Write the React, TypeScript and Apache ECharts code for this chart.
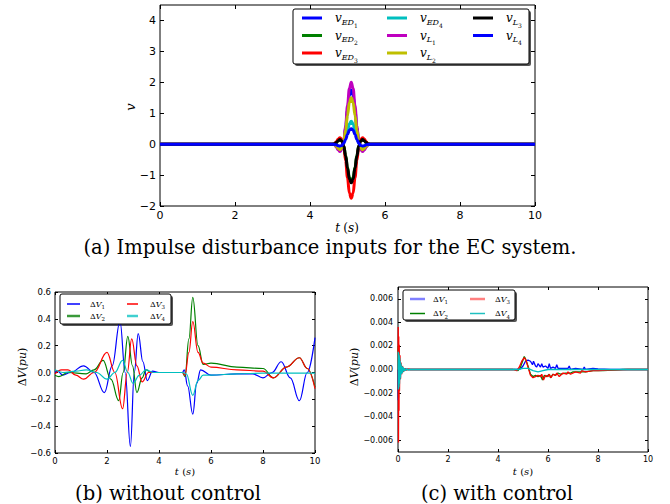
import React, { useEffect, useRef } from 'react';
import * as echarts from 'echarts';

// ---------- (a) impulse inputs ----------
const impulseT = [0, 4.6, 4.65, 4.7, 4.75, 4.8, 4.85, 4.9, 4.95, 5.0, 5.05, 5.1, 5.15, 5.2, 5.25, 5.3, 5.35, 5.4, 5.45, 5.5, 5.55, 5.6, 10];
const vED1 = [0, 0, -0.02, -0.07, -0.16, -0.21, -0.14, 0.09, 0.53, 1.09, 1.58, 1.75, 1.58, 1.09, 0.53, 0.09, -0.14, -0.21, -0.16, -0.07, -0.02, 0, 0];
const vED2 = [0, 0, 0.01, 0.05, 0.11, 0.14, 0.1, -0.06, -0.36, -0.74, -1.08, -1.2, -1.08, -0.74, -0.36, -0.06, 0.1, 0.14, 0.11, 0.05, 0.01, 0, 0];
const vED3 = [0, 0, 0.02, 0.07, 0.16, 0.21, 0.14, -0.09, -0.53, -1.09, -1.58, -1.75, -1.58, -1.09, -0.53, -0.09, 0.14, 0.21, 0.16, 0.07, 0.02, 0, 0];
const vED4 = [0, 0, -0.01, -0.03, -0.06, -0.09, -0.06, 0.04, 0.22, 0.45, 0.65, 0.74, 0.65, 0.45, 0.22, 0.04, -0.06, -0.09, -0.06, -0.03, -0.01, 0, 0];
const vL1 = [0, 0, -0.02, -0.08, -0.18, -0.24, -0.16, 0.1, 0.6, 1.24, 1.8, 2.0, 1.8, 1.24, 0.6, 0.1, -0.16, -0.24, -0.18, -0.08, -0.02, 0, 0];
const vL2 = [0, 0, -0.02, -0.06, -0.14, -0.18, -0.12, 0.08, 0.45, 0.93, 1.35, 1.5, 1.35, 0.93, 0.45, 0.08, -0.12, -0.18, -0.14, -0.06, -0.02, 0, 0];
const vL3 = [0, 0, 0.01, 0.05, 0.11, 0.15, 0.1, -0.06, -0.38, -0.78, -1.13, -1.25, -1.13, -0.78, -0.38, -0.06, 0.1, 0.15, 0.11, 0.05, 0.01, 0, 0];
const vL4 = [0, 0, -0.01, -0.02, -0.05, -0.06, -0.04, 0.03, 0.15, 0.31, 0.45, 0.5, 0.45, 0.31, 0.15, 0.03, -0.04, -0.06, -0.05, -0.02, -0.01, 0, 0];

// ---------- (b) without control ----------
const bT1 = [0, 0.1, 0.3, 0.6, 1.1, 1.5, 1.9, 2.2, 2.5, 2.7, 2.9, 3.05, 3.2, 3.38, 3.55, 3.75, 4.0, 4.9, 4.97, 5.1, 5.3, 5.45, 5.6, 6.0, 7.0, 7.6, 8.0, 8.35, 8.7, 9.05, 9.4, 9.7, 10];
const bV1 = [0.0, 0.01, -0.02, 0.0, 0.05, 0.0, -0.15, 0.05, 0.38, 0.0, -0.55, 0.0, 0.29, 0.08, -0.06, 0.01, 0.0, 0.0, 0.02, -0.1, -0.31, -0.08, 0.02, -0.02, -0.01, -0.01, -0.04, 0.0, 0.08, -0.04, -0.21, 0.0, 0.26];
const bT2 = [0, 0.15, 0.5, 1.2, 1.5, 1.85, 2.15, 2.45, 2.62, 2.8, 2.98, 3.15, 3.35, 3.5, 3.7, 4.9, 5.0, 5.15, 5.3, 5.5, 5.7, 6.0, 7.0, 8.0, 8.4, 8.9, 9.4, 9.7, 10];
const bV2 = [-0.02, -0.03, 0.0, -0.01, 0.02, 0.09, -0.05, -0.21, 0.0, 0.27, 0.05, -0.15, -0.04, 0.02, 0.0, 0.0, -0.03, 0.25, 0.56, 0.2, 0.06, 0.07, 0.04, 0.03, -0.04, 0.04, 0.11, 0.03, -0.11];
const bT3 = [0, 0.25, 0.5, 0.8, 1.1, 1.5, 2.0, 2.3, 2.6, 2.78, 2.95, 3.15, 3.35, 3.6, 4.9, 5.0, 5.15, 5.3, 5.5, 5.7, 6.0, 7.0, 8.0, 8.4, 8.9, 9.4, 9.7, 10];
const bV3 = [-0.01, 0.02, 0.02, -0.02, -0.05, 0.0, 0.15, 0.0, -0.27, 0.0, 0.25, 0.05, -0.07, 0.0, 0.0, -0.02, 0.15, 0.38, 0.15, 0.07, 0.04, 0.02, 0.01, -0.04, 0.04, 0.11, 0.03, -0.12];
const bT4 = [0, 0.3, 0.8, 1.2, 1.6, 2.0, 2.3, 2.6, 2.8, 3.0, 3.25, 3.5, 3.8, 4.9, 5.05, 5.3, 5.5, 5.7, 6.0, 7.0, 8.0, 10];
const bV4 = [0.02, 0.0, 0.01, 0.02, 0.0, -0.05, 0.0, 0.09, 0.0, -0.08, -0.02, 0.02, 0.0, 0.0, -0.01, -0.17, -0.06, -0.02, -0.02, -0.01, -0.005, -0.005];

// ---------- (c) with control ----------
const cT1 = [0, 0.01, 0.02, 0.03, 0.04, 0.06, 0.08, 0.1, 0.13, 0.16, 0.2, 0.25, 0.3, 0.4, 0.6, 4.7, 4.9, 5.0, 5.1, 5.2, 5.3, 5.38, 5.42, 5.5, 5.55, 5.6, 5.7, 5.75, 5.8, 5.9, 6.0, 6.05, 6.1, 6.2, 6.3, 6.35, 6.4, 6.6, 6.8, 6.85, 6.9, 7.1, 7.4, 7.45, 7.5, 7.8, 8.0, 8.5, 9.0, 10];
const cV1 = [0, -0.0026, 0.001, -0.0012, 0.0008, -0.0006, 0.0004, -0.0003, 0.0002, -0.00015, 0.0001, -0.00005, 0.00003, 0, 0, 0, 0.00005, 0.0003, 0.0007, 0.0008, 0.0007, 0.0004, 0.0007, 0.0003, 0.0002, 0.0005, 0.0002, 0.0005, 0.0002, 0.0003, 0.0001, 0.0005, 0.0001, 0.0002, 0.0001, 0.0004, 0.0001, 0.0001, 0.0001, 0.0003, 0.0, 0.0001, 0.0, 0.0002, 0.0, 0.0001, 0.00005, 0.0, 0.0, 0];
const cT2 = [0, 0.01, 0.02, 0.03, 0.04, 0.06, 0.08, 0.1, 0.13, 0.16, 0.2, 0.3, 0.5, 4.7, 4.8, 4.9, 5.0, 5.05, 5.1, 5.2, 5.3, 5.4, 5.5, 5.6, 5.7, 5.78, 5.85, 5.95, 6.05, 6.1, 6.2, 6.3, 6.4, 6.5, 6.7, 6.9, 7.0, 7.2, 7.5, 7.8, 8.2, 8.6, 9.0, 10];
const cV2 = [0, 0.002, -0.0024, 0.0016, -0.0012, 0.0008, -0.0005, 0.0004, -0.0002, 0.0001, -0.00005, 0, 0, 0, -0.0001, 0.0002, 0.0008, 0.0011, 0.0009, 0.0003, -0.0004, -0.0006, -0.0005, -0.0006, -0.0005, -0.0009, -0.0005, -0.0006, -0.0004, -0.0007, -0.0004, -0.0005, -0.0003, -0.0004, -0.0003, -0.0003, -0.0002, -0.0002, -0.0002, -0.0001, -0.0001, -0.00005, 0, 0];
const cT3 = [0, 0.01, 0.02, 0.03, 0.04, 0.05, 0.06, 0.08, 0.1, 0.12, 0.15, 0.18, 0.22, 0.27, 0.33, 0.4, 0.5, 4.6, 4.75, 4.85, 4.95, 5.05, 5.12, 5.2, 5.3, 5.4, 5.5, 5.6, 5.7, 5.75, 5.82, 5.9, 6.0, 6.05, 6.12, 6.2, 6.3, 6.35, 6.45, 6.6, 6.75, 6.8, 6.9, 7.1, 7.3, 7.35, 7.5, 7.8, 8.0, 8.4, 8.8, 9.2, 10];
const cV3 = [0, 0.0036, -0.0062, 0.0028, -0.0035, 0.0021, -0.0018, 0.0012, -0.0008, 0.0006, -0.0004, 0.0003, -0.0002, 0.0001, -0.00005, 0.00003, 0, 0, -0.0001, 0.0002, 0.0007, 0.001, 0.0008, 0.0002, -0.0005, -0.0007, -0.0006, -0.0005, -0.0006, -0.0004, -0.0009, -0.0005, -0.0006, -0.0004, -0.0007, -0.0004, -0.0005, -0.0003, -0.0006, -0.0003, -0.0004, -0.0002, -0.0004, -0.0002, -0.0003, -0.0001, -0.0002, -0.0001, -0.0001, -0.00005, -0.00003, 0, 0];
const cT4 = [0, 0.01, 0.02, 0.03, 0.04, 0.05, 0.06, 0.07, 0.08, 0.09, 0.1, 0.12, 0.14, 0.16, 0.18, 0.2, 0.23, 0.26, 0.3, 0.35, 0.4, 0.5, 0.6, 4.8, 5.0, 5.2, 5.4, 5.6, 5.8, 6.0, 6.5, 7.0, 8.0, 10];
const cV4 = [0, 0.0015, -0.0017, 0.0014, -0.0015, 0.0012, -0.0012, 0.001, -0.0009, 0.0007, -0.0007, 0.0005, -0.0004, 0.0003, -0.0003, 0.0002, -0.00015, 0.0001, -0.0001, 0.00005, -0.00003, 0, 0, 0, 0.0001, 0.0001, -0.0001, -0.0002, -0.0001, 0.0, 0.0, 0.0, 0.0, 0];

// ---------- ticks ----------
const xTicks = [0, 2, 4, 6, 8, 10];
const aYTicks = [-2, -1, 0, 1, 2, 3, 4];
const bYTicks = [-0.6, -0.4, -0.2, 0, 0.2, 0.4, 0.6];
const cYTicks = [-0.006, -0.004, -0.002, 0, 0.002, 0.004, 0.006];

// ---------- labels ----------
const topNames = ['vED1', 'vED2', 'vED3', 'vED4', 'vL1', 'vL2', 'vL3', 'vL4'];
const topLabels = ['{v|v}{s|ED}{n|1}', '{v|v}{s|ED}{n|2}', '{v|v}{s|ED}{n|3}', '{v|v}{s|ED}{n|4}', '{v|v}{s|L}{n|1}', '{v|v}{s|L}{n|2}', '{v|v}{s|L}{n|3}', '{v|v}{s|L}{n|4}'];
const dvLabels = ['{d|Δ}{v|V}{n|1}', '{d|Δ}{v|V}{n|2}', '{d|Δ}{v|V}{n|3}', '{d|Δ}{v|V}{n|4}'];

const serif = 'DejaVu Serif';
const sans = 'DejaVu Sans';
const mClassic = { b: '#0000ff', g: '#008000', r: '#ff0000', c: '#00bfbf', m: '#bf00bf', y: '#bfbf00', k: '#000000' };

const pairs = (t: number[], v: number[]) => t.map((x, i) => [x, v[i]]);
const fmtMinus = (s: string) => s.replace('-', '\u2212');

function xAxisDef(gridIndex: number, position: string, show: boolean, fontSize: number, tickLen: number, margin: number) {
  return {
    type: 'value', gridIndex, position, min: 0, max: 10,
    axisLine: { show: false, onZero: false },
    splitLine: { show: false },
    axisTick: { show: true, inside: true, length: tickLen, lineStyle: { color: '#000', width: 1 }, customValues: xTicks },
    axisLabel: { show, customValues: xTicks, fontFamily: sans, fontSize, color: '#000', margin, formatter: (v: number) => fmtMinus(String(v)) },
  };
}
function yAxisDef(gridIndex: number, position: string, show: boolean, min: number, max: number, ticks: number[], digits: number, fontSize: number, tickLen: number, margin: number) {
  return {
    type: 'value', gridIndex, position, min, max,
    axisLine: { show: false, onZero: false },
    splitLine: { show: false },
    axisTick: { show: true, inside: true, length: tickLen, lineStyle: { color: '#000', width: 1 }, customValues: ticks },
    axisLabel: { show, customValues: ticks, fontFamily: sans, fontSize, color: '#000', margin, formatter: (v: number) => fmtMinus(v.toFixed(digits)) },
  };
}

const topRich = {
  v: { fontFamily: serif, fontStyle: 'italic', fontSize: 12, color: '#000' },
  s: { fontFamily: serif, fontStyle: 'italic', fontSize: 8, padding: [8, 0, 0, 0], color: '#000' },
  n: { fontFamily: serif, fontSize: 6, padding: [14, 0, 0, 0], color: '#000' },
};
const dvRich = {
  d: { fontFamily: serif, fontSize: 8, color: '#000' },
  v: { fontFamily: serif, fontStyle: 'italic', fontSize: 8, color: '#000' },
  n: { fontFamily: serif, fontSize: 5.5, padding: [6, 0, 0, 0], color: '#000' },
};

function legendItem(name: string, label: string, left: number, cy: number, k: number, w: number, ih: number, pad: number, rich: any, iconColor?: string) {
  return {
    data: [iconColor ? { name, itemStyle: { color: iconColor } } : { name }],
    left, top: cy - k, padding: 0, icon: 'rect', itemWidth: w, itemHeight: ih,
    selectedMode: false, z: 5,
    formatter: () => label,
    textStyle: { rich, padding: [0, 0, 0, pad] },
  };
}

function boxWithShadow(x: number, y: number, w: number, h: number) {
  return [
    { type: 'rect', z: 3, shape: { x: x + 2, y: y + 2, width: w, height: h, r: 2 }, style: { fill: '#555', stroke: null } },
    { type: 'rect', z: 4, shape: { x, y, width: w, height: h, r: 2 }, style: { fill: '#fff', stroke: '#000', lineWidth: 1 } },
  ];
}

function App() {
  const ref = useRef<HTMLDivElement>(null);
  useEffect(() => {
    if (!ref.current) return;
    const chart = echarts.init(ref.current, undefined, { renderer: 'svg' });
    const topSeriesVals = [vED1, vED2, vED3, vED4, vL1, vL2, vL3, vL4];
    const topColors = [mClassic.b, mClassic.g, mClassic.r, mClassic.c, mClassic.m, mClassic.y, mClassic.k, mClassic.b];
    const series: any[] = [];
    topSeriesVals.forEach((vals, i) => {
      series.push({
        type: 'line', name: topNames[i], xAxisIndex: 0, yAxisIndex: 0, data: pairs(impulseT, vals),
        showSymbol: false, symbol: 'none', smooth: 0.4, smoothMonotone: 'x', color: topColors[i],
        lineStyle: { width: 3, color: topColors[i] },
      });
    });
    const bData = [[bT1, bV1], [bT2, bV2], [bT3, bV3], [bT4, bV4]];
    const bColors = [mClassic.b, mClassic.g, mClassic.r, mClassic.c];
    bData.forEach(([t, v], i) => {
      series.push({
        type: 'line', name: 'b' + (i + 1), xAxisIndex: 2, yAxisIndex: 2, data: pairs(t, v),
        showSymbol: false, symbol: 'none', smooth: 0.4, smoothMonotone: 'x', color: bColors[i],
        lineStyle: { width: 1.2, color: bColors[i] },
      });
    });
    const cData = [[cT1, cV1], [cT2, cV2], [cT3, cV3], [cT4, cV4]];
    cData.forEach(([t, v], i) => {
      series.push({
        type: 'line', name: 'c' + (i + 1), xAxisIndex: 4, yAxisIndex: 4, data: pairs(t, v),
        showSymbol: false, symbol: 'none', color: bColors[i],
        lineStyle: { width: 1.3, color: bColors[i] },
      });
    });

    const legends: any[] = [];
    const topCols = [302, 387, 473];
    const topRows = [18, 35.5, 53];
    topNames.forEach((n, i) => {
      const col = Math.floor(i / 3), row = i % 3;
      legends.push(legendItem(n, topLabels[i], topCols[col], topRows[row], 6, 20, 3, 8, topRich));
    });
    const bCols = [67, 127];
    const bRows = [303, 315];
    const bIcon = [['#0000ff', 1.5], ['#3a9a3a', 2.5], ['#ff0000', 1.5], ['#40d0d0', 2.5]];
    for (let i = 0; i < 4; i++) {
      const col = Math.floor(i / 2), row = i % 2;
      legends.push(legendItem('b' + (i + 1), dvLabels[i], bCols[col], bRows[row], 3, col === 0 ? 13 : 11, bIcon[i][1] as number, col === 0 ? 5 : 7, dvRich, bIcon[i][0] as string));
    }
    const cCols = [410, 470];
    const cRows = [298, 312.5];
    const cIcon = [['#8080ff', 2.5], ['#008000', 1.5], ['#ff8080', 2.5], ['#20c0c0', 1.5]];
    for (let i = 0; i < 4; i++) {
      const col = Math.floor(i / 2), row = i % 2;
      legends.push(legendItem('c' + (i + 1), dvLabels[i], cCols[col], cRows[row], 3, 15, cIcon[i][1] as number, col === 0 ? 3 : 5, dvRich, cIcon[i][0] as string));
    }

    const italicSerif = (size: number) => ({ fontFamily: serif, fontStyle: 'italic', fontSize: size, fill: '#000' });
    const uprightSerif = (size: number) => ({ fontFamily: serif, fontSize: size, fill: '#000' });
    const tsRich = (size: number) => ({ i: italicSerif(size), r: uprightSerif(size) });

    const capFont = 19.5;
    const graphic: any[] = [
      ...boxWithShadow(293, 9, 236, 55),
      ...boxWithShadow(60, 294, 111, 30),
      ...boxWithShadow(403, 290, 112, 30),
      { type: 'text', x: 330, y: 247, style: { text: '(a) Impulse disturbance inputs for the EC system.', fontFamily: serif, fontSize: capFont, fill: '#000', align: 'center', verticalAlign: 'middle' } },
      { type: 'text', x: 168, y: 493, style: { text: '(b) without control', fontFamily: serif, fontSize: capFont, fill: '#000', align: 'center', verticalAlign: 'middle' } },
      { type: 'text', x: 497, y: 493, style: { text: '(c) with control', fontFamily: serif, fontSize: capFont, fill: '#000', align: 'center', verticalAlign: 'middle' } },
      { type: 'text', x: 347, y: 228, style: { text: '{i|t} {r|(}{i|s}{r|)}', rich: tsRich(12), align: 'center', verticalAlign: 'middle' } },
      { type: 'text', x: 130, y: 107, rotation: Math.PI / 2, style: { text: '{i|v}', rich: tsRich(13), align: 'center', verticalAlign: 'middle' } },
      { type: 'text', x: 185, y: 471, style: { text: '{i|t} {r|(}{i|s}{r|)}', rich: tsRich(10), align: 'center', verticalAlign: 'middle' } },
      { type: 'text', x: 523, y: 471, style: { text: '{i|t} {r|(}{i|s}{r|)}', rich: tsRich(10), align: 'center', verticalAlign: 'middle' } },
      { type: 'text', x: 22, y: 367, rotation: Math.PI / 2, style: { text: '{r|Δ}{i|V}{r|(}{i|pu}{r|)}', rich: tsRich(11), align: 'center', verticalAlign: 'middle' } },
      { type: 'text', x: 354, y: 367, rotation: Math.PI / 2, style: { text: '{r|Δ}{i|V}{r|(}{i|pu}{r|)}', rich: tsRich(11), align: 'center', verticalAlign: 'middle' } },
    ];

    const option: any = {
      animation: false,
      backgroundColor: '#fff',
      grid: [
        { left: 160, top: 5, width: 375, height: 201, show: true, borderColor: '#000', borderWidth: 1, backgroundColor: 'transparent' },
        { left: 55, top: 292, width: 260, height: 161, show: true, borderColor: '#000', borderWidth: 1, backgroundColor: 'transparent' },
        { left: 398, top: 287, width: 250, height: 165, show: true, borderColor: '#000', borderWidth: 1, backgroundColor: 'transparent' },
      ],
      xAxis: [
        xAxisDef(0, 'bottom', true, 11, 4, 4),
        xAxisDef(0, 'top', false, 11, 4, 4),
        xAxisDef(1, 'bottom', true, 8.5, 3, 3),
        xAxisDef(1, 'top', false, 8.5, 3, 3),
        xAxisDef(2, 'bottom', true, 8, 3, 3),
        xAxisDef(2, 'top', false, 8, 3, 3),
      ],
      yAxis: [
        yAxisDef(0, 'left', true, -2, 4.5, aYTicks, 0, 11, 4, 4),
        yAxisDef(0, 'right', false, -2, 4.5, aYTicks, 0, 11, 4, 4),
        yAxisDef(1, 'left', true, -0.6, 0.6, bYTicks, 1, 8.5, 3, 4),
        yAxisDef(1, 'right', false, -0.6, 0.6, bYTicks, 1, 8.5, 3, 4),
        yAxisDef(2, 'left', true, -0.007, 0.007, cYTicks, 3, 8, 3, 5),
        yAxisDef(2, 'right', false, -0.007, 0.007, cYTicks, 3, 8, 3, 5),
      ],
      legend: legends,
      graphic: { elements: graphic },
      series,
    };
    chart.setOption(option);
    return () => chart.dispose();
  }, []);
  return <div ref={ref} style={{ position: 'absolute', left: 0, top: 0, width: 670, height: 504 }} />;
}

export default App;
